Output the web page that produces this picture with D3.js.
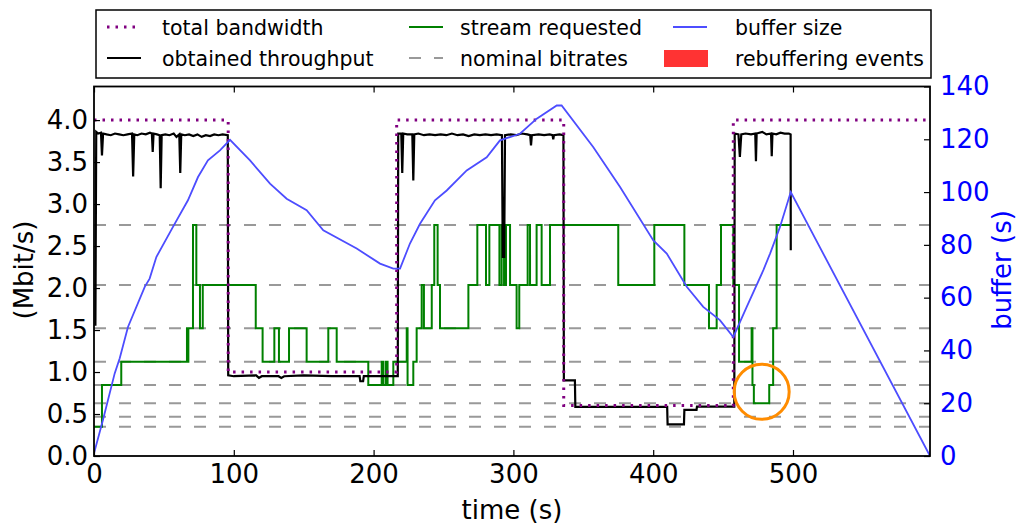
<!DOCTYPE html>
<html>
<head>
<meta charset="utf-8">
<script src="https://cdn.jsdelivr.net/npm/d3@7"></script>
<style>
  body { margin: 0; background: #fff; }
  svg { display: block; font-family: "DejaVu Sans", sans-serif; }
</style>
</head>
<body>
<svg id="chart" width="1018" height="527"></svg>
<script>
// Nominal bitrate ladder (Mbit/s)
const nominalBitrates = [0.349, 0.468, 0.627, 0.845, 1.123, 1.52, 2.036, 2.75];

// Link capacity (Mbit/s), piecewise constant from each start time
const bandwidthTimes  = [0, 96, 216.5, 336, 457.3, 598];
const bandwidthValues = [4.0, 1.0, 4.0, 0.6, 4.0, 4.0];

// Measured throughput (Mbit/s)
const throughputTimes = [
  1, 1.6, 3, 5, 5.7, 6.5, 9, 12, 15, 18, 21, 24, 27.2, 28, 28.8, 31, 34, 37, 40, 41.4, 42, 42.6,
  45, 47, 47.7, 48.4, 51, 54, 57, 59, 61, 61.7, 62.4, 65, 68, 71, 74, 77, 80, 83, 86, 89, 92, 95.7,
  96, 100, 116, 118, 120, 132, 134, 136, 150, 170, 190, 190.5, 192.5, 193, 205, 217.3,
  217.6, 219.8, 220.5, 221.2, 224, 227.7, 228.4, 229.1, 232, 236, 240, 244, 248, 252, 256, 260, 264,
  268, 272, 276, 280, 284, 288, 291.8, 292.4, 293.4, 294, 298, 302, 306, 310, 312, 312.6, 313.2,
  318, 322, 326, 328, 328.5, 329, 333, 335.8,
  336.1, 344, 344.3, 360, 380, 410, 410.3, 422, 422.3, 431, 431.3, 458,
  458.3, 461, 462, 463, 466, 470, 473, 473.5, 474, 478, 481, 484.3, 484.8, 485.3, 488, 491, 494, 497, 498.3, 498.4
];
const throughputValues = [
  1.55, 3.86, 3.84, 3.85, 3.58, 3.84, 3.83, 3.82, 3.84, 3.83, 3.82, 3.83, 3.84, 3.33, 3.83, 3.82, 3.84, 3.83, 3.85, 3.84, 3.62, 3.84,
  3.83, 3.82, 3.19, 3.82, 3.83, 3.82, 3.84, 3.80, 3.83, 3.37, 3.83, 3.82, 3.83, 3.81, 3.83, 3.80, 3.82, 3.81, 3.83, 3.82, 3.83, 3.82,
  0.96, 0.95, 0.96, 0.93, 0.95, 0.95, 0.93, 0.95, 0.96, 0.95, 0.95, 0.89, 0.89, 0.95, 0.95, 0.95,
  3.84, 3.84, 3.37, 3.84, 3.83, 3.83, 3.28, 3.83, 3.84, 3.82, 3.83, 3.82, 3.83, 3.82, 3.84, 3.82, 3.83,
  3.81, 3.83, 3.82, 3.83, 3.82, 3.83, 3.82, 2.37, 2.37, 3.82, 3.83, 3.82, 3.84, 3.83, 3.82, 3.70, 3.82,
  3.83, 3.82, 3.83, 3.82, 3.77, 3.82, 3.83, 3.82,
  0.90, 0.90, 0.585, 0.585, 0.585, 0.585, 0.377, 0.377, 0.55, 0.55, 0.587, 0.587,
  3.84, 3.83, 3.56, 3.83, 3.84, 3.83, 3.84, 3.51, 3.84, 3.86, 3.83, 3.84, 3.57, 3.84, 3.83, 3.85, 3.84, 3.84, 3.83, 2.45
];

// Requested stream: switch times and index into the bitrate ladder
const streamTimes = [
  0, 5.7, 19.5, 66.5, 67.0, 67.5, 70.8, 73.2, 75.8, 77.8, 115.7, 120.6, 129, 132.3, 139.5, 152.1,
  167.6, 173.6, 196.2, 205.8, 206.8, 208.6, 210, 214.1, 223.7, 224.3, 228.4, 230.8, 234.4, 236,
  241.6, 243.4, 245.8, 247.5, 267.8, 274.2, 280.4, 282.8, 290, 291.6, 293.3, 294.7, 297.6, 302.3,
  304.2, 310.2, 311.9, 316.6, 320.2, 326.2, 375, 400.8, 422.3, 439.9, 445.4, 448.5, 457.3, 461.4,
  470.4, 471.0, 472.0, 483.0, 485.8, 488.3, 498.4
];
const streamLevels = [
  0, 3, 4, 5, 4, 5, 7, 6, 5, 6, 5, 4, 5, 4, 5, 4,
  5, 4, 3, 4, 3, 4, 3, 4, 5, 3, 4, 5, 6, 5,
  6, 7, 6, 5, 6, 7, 6, 7, 6, 7, 6, 7, 6, 5,
  6, 7, 6, 7, 6, 7, 6, 7, 6, 5, 6, 7, 6, 4,
  5, 3, 2, 3, 5, 7, 7
];

// Playback buffer occupancy (s)
const bufferTimes = [
  0, 6.4, 14.8, 18.4, 24.3, 36.3, 39.8, 44.6, 56.5, 67.2, 74.4, 81.5, 90.1, 97.3,
  111.6, 125.9, 137.8, 152.1, 164.0, 187.9, 204.6, 214.1, 218.9,
  226.0, 233.2, 243.9, 252.3, 266.6, 280.9, 290.4, 304.7, 316.7, 331.0, 334.5,
  357.2, 376.3, 400.1, 409.7, 424.0, 435.8, 447.7, 457.3,
  466.9, 478.8, 483.6, 490.7, 498.4, 598
];
const bufferValues = [
  1, 13.6, 31.3, 37.0, 48.9, 64.1, 67.2, 75.4, 86.8, 96.9, 105.7, 112.0, 115.8, 119.8,
  112.0, 103.2, 97.5, 93.1, 85.5, 78.6, 72.9, 71.0, 71.0,
  80.5, 88.0, 96.9, 100.6, 108.2, 113.2, 119.6, 122.1, 127.8, 132.8, 132.8,
  117.0, 101.9, 81.7, 76.7, 64.1, 56.5, 51.5, 45.1,
  56.5, 70.4, 76.7, 86.8, 100.0, 0
];

// Highlighted low-quality episode
const highlightTime = 477.6;
const highlightRate = 0.765;

// Axis ticks
const timeTicks = [0, 100, 200, 300, 400, 500];
const rateTicks = [0, 0.5, 1.0, 1.5, 2.0, 2.5, 3.0, 3.5, 4.0];
const bufferTicks = [0, 20, 40, 60, 80, 100, 120, 140];

const svg = d3.select("#chart");
const plot = { left: 94, right: 930, top: 86.5, bottom: 456 };

const x = d3.scaleLinear().domain([0, 598]).range([plot.left, plot.right]);
const yRate = d3.scaleLinear().domain([0, 4.4]).range([plot.bottom, plot.top]);
const yBuf = d3.scaleLinear().domain([0, 140]).range([plot.bottom, plot.top]);

svg.append("clipPath").attr("id", "plotClip")
  .append("rect").attr("x", plot.left).attr("y", plot.top)
  .attr("width", plot.right - plot.left).attr("height", plot.bottom - plot.top);

const g = svg.append("g").attr("clip-path", "url(#plotClip)");

// nominal bitrate levels
g.selectAll("line.nominal").data(nominalBitrates).join("line")
  .attr("class", "nominal")
  .attr("x1", plot.left).attr("x2", plot.right)
  .attr("y1", d => yRate(d)).attr("y2", d => yRate(d))
  .attr("stroke", "#999").attr("stroke-width", 2)
  .attr("stroke-dasharray", "12,13");

// requested stream
const streamPts = streamTimes.map((t, i) => [t, nominalBitrates[streamLevels[i]]]);
g.append("path").datum(streamPts)
  .attr("d", d3.line().x(d => x(d[0])).y(d => yRate(d[1])).curve(d3.curveStepAfter))
  .attr("fill", "none").attr("stroke", "#008000").attr("stroke-width", 2);

// obtained throughput
const tpPts = throughputTimes.map((t, i) => [t, throughputValues[i]]);
g.append("path").datum(tpPts)
  .attr("d", d3.line().x(d => x(d[0])).y(d => yRate(d[1])))
  .attr("fill", "none").attr("stroke", "#000").attr("stroke-width", 2.2)
  .attr("stroke-linejoin", "miter");

// total bandwidth
const bwPts = bandwidthTimes.map((t, i) => [t, bandwidthValues[i]]);
g.append("path").datum(bwPts)
  .attr("d", d3.line().x(d => x(d[0])).y(d => yRate(d[1])).curve(d3.curveStepAfter))
  .attr("fill", "none").attr("stroke", "#800080").attr("stroke-width", 3)
  .attr("stroke-dasharray", "2.5,6");

// buffer size
const bufPts = bufferTimes.map((t, i) => [t, bufferValues[i]]);
g.append("path").datum(bufPts)
  .attr("d", d3.line().x(d => x(d[0])).y(d => yBuf(d[1])))
  .attr("fill", "none").attr("stroke", "#4d4dff").attr("stroke-width", 1.8);

// highlight ring
svg.append("circle")
  .attr("cx", x(highlightTime)).attr("cy", yRate(highlightRate)).attr("r", 27.5)
  .attr("fill", "none").attr("stroke", "#ff8c00").attr("stroke-width", 3);

// axes
const fs = 26;
const bottomAxis = svg.append("g").attr("transform", `translate(0,${plot.bottom})`)
  .call(d3.axisBottom(x).tickValues(timeTicks).tickFormat(d3.format("d")).tickSize(-6).tickPadding(9));
const topAxis = svg.append("g").attr("transform", `translate(0,${plot.top})`)
  .call(d3.axisTop(x).tickValues(timeTicks).tickFormat("").tickSize(-6));
const leftAxis = svg.append("g").attr("transform", `translate(${plot.left},0)`)
  .call(d3.axisLeft(yRate).tickValues(rateTicks).tickFormat(d3.format(".1f")).tickSize(-6).tickPadding(6));
const rightAxis = svg.append("g").attr("transform", `translate(${plot.right},0)`)
  .call(d3.axisRight(yBuf).tickValues(bufferTicks).tickFormat(d3.format("d")).tickSize(-6).tickPadding(10));

[bottomAxis, topAxis, leftAxis, rightAxis].forEach(a => {
  a.select(".domain").remove();
  a.selectAll(".tick line").attr("stroke", "#000").attr("stroke-width", 1.2);
  a.selectAll(".tick text").attr("font-size", fs).attr("font-family", "DejaVu Sans").attr("fill", "#000");
});
rightAxis.selectAll(".tick text").attr("fill", "#0000ff");

// frame
svg.append("rect")
  .attr("x", plot.left).attr("y", plot.top)
  .attr("width", plot.right - plot.left).attr("height", plot.bottom - plot.top)
  .attr("fill", "none").attr("stroke", "#000").attr("stroke-width", 1.8);

// axis titles
svg.append("text").attr("x", (plot.left + plot.right) / 2).attr("y", 519)
  .attr("text-anchor", "middle").attr("font-size", fs).text("time (s)");
svg.append("text").attr("transform", "translate(33,270) rotate(-90)")
  .attr("text-anchor", "middle").attr("font-size", fs).text("(Mbit/s)");
svg.append("text").attr("transform", "translate(1011,270) rotate(-90)")
  .attr("text-anchor", "middle").attr("font-size", fs).attr("fill", "#0000ff").text("buffer (s)");

// legend
const legend = svg.append("g");
legend.append("rect").attr("x", 96).attr("y", 10).attr("width", 835).attr("height", 68)
  .attr("fill", "#fff").attr("stroke", "#000").attr("stroke-width", 1.5);

const legendItems = [
  { label: "total bandwidth",     col: 0, row: 0, kind: "line", color: "#800080", width: 3, dash: "2.5,6" },
  { label: "obtained throughput", col: 0, row: 1, kind: "line", color: "#000", width: 2.2 },
  { label: "stream requested",    col: 1, row: 0, kind: "line", color: "#008000", width: 2 },
  { label: "nominal bitrates",    col: 1, row: 1, kind: "line", color: "#999", width: 2, dash: "12,13" },
  { label: "buffer size",         col: 2, row: 0, kind: "line", color: "#4d4dff", width: 1.8 },
  { label: "rebuffering events",  col: 2, row: 1, kind: "rect", color: "#ff3333" }
];
const colSymbolX = [107, 409, 673];
const colTextX = [162, 460, 735];
const rowY = [27, 58];

legendItems.forEach(it => {
  const sx = colSymbolX[it.col], cy = rowY[it.row];
  if (it.kind === "line") {
    legend.append("line").attr("x1", sx).attr("x2", sx + 34).attr("y1", cy).attr("y2", cy)
      .attr("stroke", it.color).attr("stroke-width", it.width)
      .attr("stroke-dasharray", it.dash || null);
  } else {
    legend.append("rect").attr("x", 664).attr("y", cy - 8).attr("width", 44).attr("height", 17)
      .attr("fill", it.color);
  }
  legend.append("text").attr("x", colTextX[it.col]).attr("y", cy + 7.5)
    .attr("font-size", 20.5).text(it.label);
});
</script>
</body>
</html>
